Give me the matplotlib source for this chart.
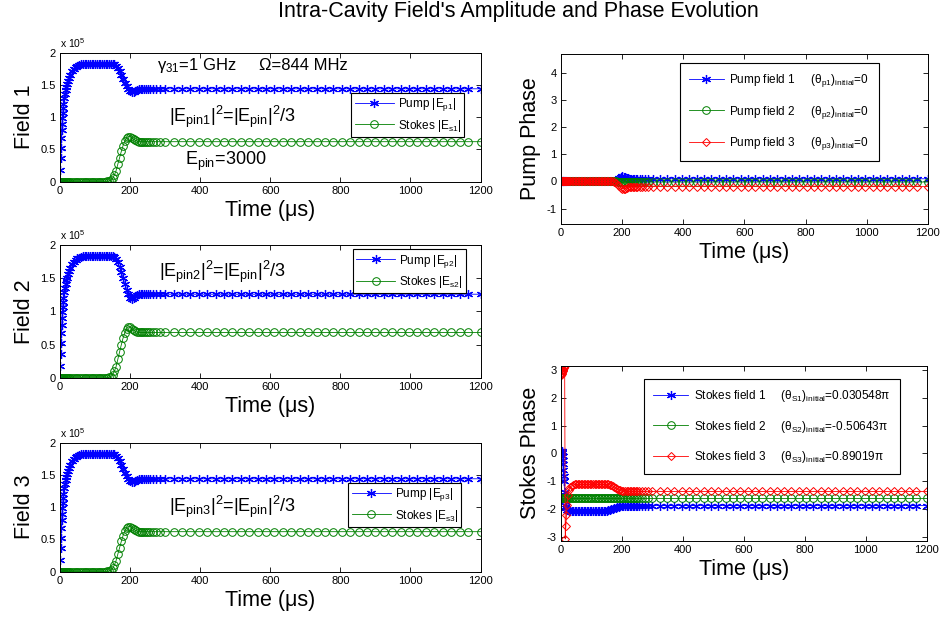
import matplotlib
matplotlib.use('Agg')
import matplotlib.pyplot as plt
from matplotlib.ticker import FuncFormatter
import numpy as np

plt.rcParams['font.family'] = ['Liberation Sans', 'DejaVu Sans']
plt.rcParams['mathtext.default'] = 'regular'
plt.rcParams['axes.unicode_minus'] = False

# solver time samples (us): dense during the transient, coarse afterwards
t_dense = [0, 1, 2, 3, 4, 5, 6, 7, 8, 9, 10, 12, 14, 16, 18, 20, 23, 26, 30,
           35, 40, 45, 50, 55, 60, 65, 70, 75, 80, 85, 90, 95, 100, 105, 110,
           115, 120, 125, 130, 135, 140, 145, 150, 155, 160, 165, 170, 175, 180,
           185, 190, 195, 200, 205, 210, 215, 220, 225, 230, 235, 240, 245, 250,
           257, 265, 274, 284]
t_late = [300, 324, 348, 372, 396, 420, 444, 468, 492, 516, 540, 564, 588, 612,
          636, 660, 684, 708, 732, 756, 780, 804, 828, 852, 876, 900, 924, 948,
          972, 996, 1020, 1044, 1068, 1092, 1116, 1140, 1164, 1200]

# amplitudes (x 1e5)
pump1 = ([0, 0.18, 0.36, 0.52, 0.67, 0.80, 0.90, 0.99, 1.07, 1.14, 1.20]
         + [1.29, 1.36, 1.42, 1.47, 1.51, 1.56, 1.61, 1.66]
         + [1.71, 1.75, 1.78, 1.80, 1.81, 1.82] + [1.83] * 18
         + [1.82, 1.80, 1.76, 1.71, 1.65, 1.59, 1.53, 1.48, 1.44, 1.41, 1.39,
            1.39, 1.40, 1.42, 1.43, 1.44] + [1.44] * 8)
stokes1 = ([0] * 39
           + [0.005, 0.01, 0.02, 0.05, 0.10, 0.17, 0.27, 0.37, 0.47, 0.56, 0.63,
              0.68, 0.70, 0.70, 0.68, 0.66, 0.64, 0.63, 0.62, 0.62] + [0.62] * 8)
pump2 = (pump1[:43]
         + [1.82, 1.79, 1.74, 1.67, 1.59, 1.50, 1.41, 1.33, 1.26, 1.21, 1.19,
            1.20, 1.23, 1.25, 1.26, 1.26] + [1.26] * 8)
stokes2 = ([0] * 39
           + [0.005, 0.01, 0.02, 0.05, 0.10, 0.17, 0.28, 0.39, 0.50, 0.60, 0.68,
              0.74, 0.77, 0.765, 0.74, 0.72, 0.70, 0.69, 0.685, 0.685] + [0.685] * 8)
pump3 = list(pump1)     # field 3 trace looks the same as field 1
stokes3 = list(stokes1)

# pump phases (rad)
ph_p1 = [0] * 48 + [0.02, 0.06, 0.12, 0.17, 0.19, 0.18, 0.16, 0.14, 0.12, 0.11, 0.10] + [0.10] * 8
ph_p2 = [0] * 48 + [0, -0.01, -0.01, -0.02, -0.02, -0.02, -0.02, -0.02, -0.02, -0.02, -0.02] + [-0.02] * 8
ph_p3 = [0] * 47 + [-0.02, -0.06, -0.12, -0.18, -0.23, -0.26, -0.27, -0.26, -0.24,
                    -0.22, -0.21, -0.20] + [-0.19] * 8

# stokes phases (rad)
ph_s1 = ([0.096, 0.10, 0.08, 0.05, 0.0, -0.10, -0.25, -0.40, -0.60, -0.80, -1.00]
         + [-1.40, -1.70, -1.88, -1.97, -2.02, -2.05, -2.06, -2.06] + [-2.06] * 24
         + [-2.05, -2.03, -2.01, -1.99, -1.97, -1.95, -1.93, -1.92, -1.91, -1.90,
            -1.90, -1.89, -1.89, -1.89, -1.88, -1.88] + [-1.88] * 8)
ph_s2 = [-1.59] * 67
ph_s3 = ([2.80, 2.83, 2.86, 2.89, 2.92, 2.95, 2.98, 3.01, 3.04, 3.07, 3.10]
         + [3.13, -3.08, -2.60, -2.20, -1.85, -1.50, -1.32, -1.22]
         + [-1.17, -1.14] + [-1.12] * 22
         + [-1.12, -1.13, -1.15, -1.18, -1.21, -1.25, -1.28, -1.31, -1.33, -1.35,
            -1.36, -1.37, -1.37, -1.37, -1.37, -1.37] + [-1.37] * 8)

t = np.array(t_dense + t_late)

BLUE = (0, 0, 1)
GREEN = (0, 0.5, 0)
RED = (1, 0, 0)
STAR = (6, 2, 0)   # asterisk like MATLAB '*'


def full(dense):
    # after the transient every trace sits at its steady value
    return np.concatenate([dense, np.full(len(t_late), dense[-1])])


def style(ax):
    ax.tick_params(direction='in', top=True, right=True, length=3.5, width=0.6,
                   labelsize=8, pad=3)
    for s in ax.spines.values():
        s.set_linewidth(0.7)
    ax.set_xlim(0, 1200)
    ax.set_xticks([0, 200, 400, 600, 800, 1000, 1200])
    ax.set_xlabel('Time (\u03bcs)', fontsize=15.5, labelpad=3)


fig = plt.figure(figsize=(9.43, 6.22), dpi=100)
fig.text(0.55, 0.981, "Intra-Cavity Field's Amplitude and Phase Evolution",
         ha='center', va='center', fontsize=15.5)

amp_pos = [[0.0636, 0.7079, 0.446, 0.2074],
           [0.0636, 0.3923, 0.446, 0.2138],
           [0.0636, 0.0809, 0.446, 0.2074]]
amps = [(pump1, stokes1), (pump2, stokes2), (pump3, stokes3)]
leg_anchor = [(0.692, 0.688), (0.696, 0.97), (0.685, 0.688)]
eq_pos = [(0.259, 0.465), (0.235, 0.762), (0.259, 0.465)]

for i in range(3):
    ax = fig.add_axes(amp_pos[i])
    p, s = amps[i]
    n = i + 1
    ax.plot(t, full(p), color=BLUE, marker=STAR, ms=6.5, lw=0.6, mew=0.9,
            label='Pump |E$_{p%d}$|' % n)
    ax.plot(t, full(s), color=GREEN, marker='o', ms=5.5, lw=0.6, mew=0.7,
            mfc='none', label='Stokes |E$_{s%d}$|' % n)
    style(ax)
    ax.set_ylim(0, 2)
    ax.set_yticks([0, 0.5, 1, 1.5, 2])
    ax.yaxis.set_major_formatter(FuncFormatter(lambda v, pos: '%g' % v))
    ax.set_ylabel('Field %d' % n, fontsize=15.5)
    ax.text(0, 1.02, 'x 10$^5$', transform=ax.transAxes, fontsize=7.5,
            ha='left', va='bottom')
    leg = ax.legend(loc='upper left', bbox_to_anchor=leg_anchor[i], fontsize=8.5,
                    fancybox=False, edgecolor='k', framealpha=1, borderpad=0.3,
                    labelspacing=0.35, handlelength=3.3, handletextpad=0.35,
                    borderaxespad=0, numpoints=1)
    leg.get_frame().set_linewidth(0.8)
    ax.text(eq_pos[i][0], eq_pos[i][1], '|E$_{pin%d}$|$^2$=|E$_{pin}$|$^2$/3' % n,
            transform=ax.transAxes, fontsize=13, ha='left', va='baseline')
    if i == 0:
        ax.text(0.231, 0.866, '\u03b3$_{31}$=1 GHz', transform=ax.transAxes,
                fontsize=12, ha='left', va='baseline')
        ax.text(0.473, 0.866, '\u03a9=844 MHz', transform=ax.transAxes,
                fontsize=12, ha='left', va='baseline')
        ax.text(0.297, 0.129, 'E$_{pin}$=3000', transform=ax.transAxes,
                fontsize=13, ha='left', va='baseline')

# pump phase
ax = fig.add_axes([0.5949, 0.6399, 0.389, 0.2733])
ax.plot(t, full(ph_p1), color=BLUE, marker=STAR, ms=6.5, lw=0.6, mew=0.9,
        label='Pump field 1     (\u03b8$_{p1}$)$_{initial}$=0')
ax.plot(t, full(ph_p2), color=GREEN, marker='o', ms=5.5, lw=0.6, mew=0.7,
        mfc='none', label='Pump field 2     (\u03b8$_{p2}$)$_{initial}$=0')
ax.plot(t, full(ph_p3), color=RED, marker='D', ms=4.5, lw=0.6, mew=0.7,
        mfc='none', label='Pump field 3     (\u03b8$_{p3}$)$_{initial}$=0')
style(ax)
ax.set_ylim(-np.pi / 2, 3 * np.pi / 2)
ax.set_yticks([-1, 0, 1, 2, 3, 4])
ax.set_ylabel('Pump Phase', fontsize=15.5)
leg = ax.legend(loc='upper left', bbox_to_anchor=(0.324, 0.947), fontsize=8.5,
                fancybox=False, edgecolor='k', framealpha=1, borderpad=0.8,
                labelspacing=1.2, handlelength=2.9, handletextpad=0.5,
                borderaxespad=0, numpoints=1)
leg.get_frame().set_linewidth(0.8)

# stokes phase
ax = fig.add_axes([0.5949, 0.1307, 0.388, 0.2809])
ax.plot(t, full(ph_s1), color=BLUE, marker=STAR, ms=6.5, lw=0.6, mew=0.9,
        label='Stokes field 1     (\u03b8$_{S1}$)$_{initial}$=0.030548\u03c0')
ax.plot(t, full(ph_s2), color=GREEN, marker='o', ms=5.5, lw=0.6, mew=0.7,
        mfc='none', label='Stokes field 2     (\u03b8$_{S2}$)$_{initial}$=-0.50643\u03c0')
ax.plot(t, full(ph_s3), color=RED, marker='D', ms=4.5, lw=0.6, mew=0.7,
        mfc='none', label='Stokes field 3     (\u03b8$_{S3}$)$_{initial}$=0.89019\u03c0')
style(ax)
ax.set_ylim(-np.pi, np.pi)
ax.set_yticks([-3, -2, -1, 0, 1, 2, 3])
ax.set_ylabel('Stokes Phase', fontsize=15.5)
leg = ax.legend(loc='upper left', bbox_to_anchor=(0.227, 0.926), fontsize=8.5,
                fancybox=False, edgecolor='k', framealpha=1, borderpad=0.8,
                labelspacing=1.2, handlelength=2.9, handletextpad=0.5,
                borderaxespad=0, numpoints=1)
leg.get_frame().set_linewidth(0.8)

fig.savefig('out.png', dpi=100)
